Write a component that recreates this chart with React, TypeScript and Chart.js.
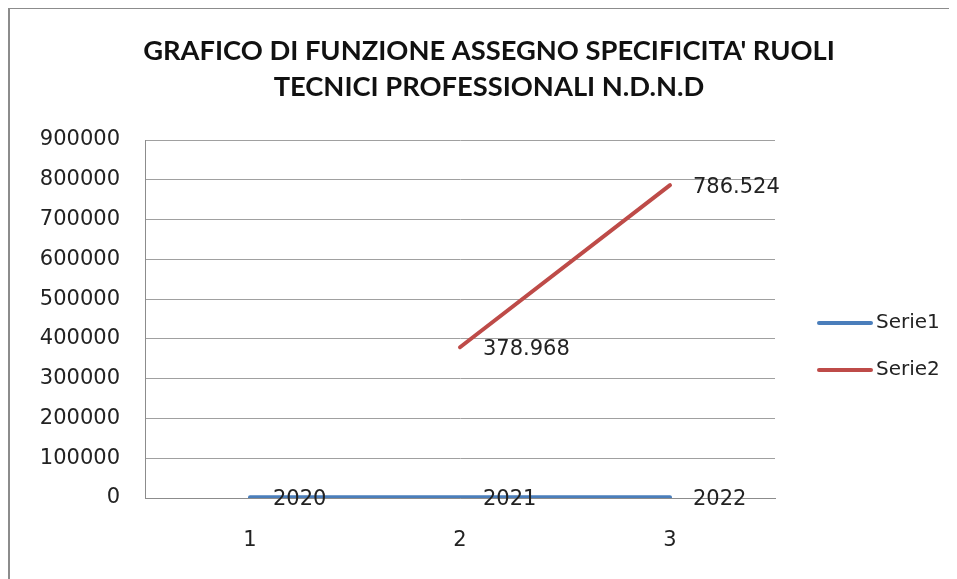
import React, { useEffect, useRef } from "react";
import { Chart, registerables } from "chart.js";

Chart.register(...registerables);

const titleLines = [
  "GRAFICO DI FUNZIONE ASSEGNO SPECIFICITA' RUOLI",
  "TECNICI PROFESSIONALI N.D.N.D",
];
const categories = ["1", "2", "3"];
const serie1 = [2020, 2021, 2022];
const serie2: (number | null)[] = [null, 378968, 786524];
const seriesNames = ["Serie1", "Serie2"];
const seriesColors = ["#4a7ebb", "#be4b48"];
const yMin = 0;
const yMax = 900000;
const yStep = 100000;

const fmt = (v: number) =>
  v >= 10000 ? String(Math.round(v)).replace(/\B(?=(\d{3})+(?!\d))/g, ".") : String(v);

const decorPlugin = {
  id: "decor",
  beforeDraw(chart: any) {
    const { ctx, width, height } = chart;
    ctx.save();
    ctx.fillStyle = "#ffffff";
    ctx.fillRect(0, 0, width, height);
    ctx.strokeStyle = "#8c8c8c";
    ctx.lineWidth = 2;
    ctx.beginPath();
    ctx.moveTo(1, height);
    ctx.lineTo(1, 0);
    ctx.lineTo(width, 0);
    ctx.stroke();
    ctx.restore();
  },
  afterDraw(chart: any) {
    const { ctx } = chart;
    ctx.save();
    // title
    ctx.fillStyle = "#111111";
    ctx.textAlign = "center";
    ctx.textBaseline = "middle";
    ctx.font = "bold 22px Lato";
    const w = ctx.measureText(titleLines[0]).width;
    const size = (22 * 692) / w;
    ctx.font = `bold ${size.toFixed(2)}px Lato`;
    ctx.fillText(titleLines[0], 481, 43);
    ctx.fillText(titleLines[1], 481, 79);
    // legend
    ctx.textAlign = "left";
    ctx.font = "20px 'DejaVu Sans'";
    ctx.lineCap = "round";
    ctx.lineWidth = 4;
    const ys = [315, 362];
    seriesNames.forEach((n, i) => {
      ctx.strokeStyle = seriesColors[i];
      ctx.beginPath();
      ctx.moveTo(811, ys[i]);
      ctx.lineTo(863, ys[i]);
      ctx.stroke();
      ctx.fillStyle = "#222222";
      ctx.fillText(n, 868, ys[i]);
    });
    ctx.restore();
  },
  afterDatasetsDraw(chart: any) {
    const { ctx } = chart;
    ctx.save();
    ctx.font = "21px 'DejaVu Sans'";
    ctx.fillStyle = "#222222";
    ctx.textAlign = "left";
    ctx.textBaseline = "middle";
    chart.data.datasets.forEach((ds: any, di: number) => {
      const meta = chart.getDatasetMeta(di);
      meta.data.forEach((pt: any, i: number) => {
        const v = ds.data[i];
        if (v === null || v === undefined) return;
        ctx.fillText(fmt(v), pt.x + 23, pt.y + 2);
      });
    });
    ctx.restore();
  },
};

export default function App() {
  const ref = useRef<HTMLCanvasElement>(null);
  useEffect(() => {
    document.documentElement.style.overflow = "hidden";
    if (!ref.current) return;
    const chart = new Chart(ref.current, {
      type: "line",
      data: {
        labels: categories,
        datasets: [
          {
            label: seriesNames[0],
            data: serie1,
            borderColor: seriesColors[0],
            backgroundColor: seriesColors[0],
            borderWidth: 4,
            pointRadius: 0,
            borderCapStyle: "round",
            tension: 0,
          },
          {
            label: seriesNames[1],
            data: serie2,
            borderColor: seriesColors[1],
            backgroundColor: seriesColors[1],
            borderWidth: 4,
            pointRadius: 0,
            borderCapStyle: "round",
            tension: 0,
          },
        ],
      },
      options: {
        responsive: false,
        animation: false,
        layout: { padding: { top: 132, right: 182, left: 0, bottom: 0 } },
        plugins: {
          legend: { display: false },
          title: { display: false },
          tooltip: { enabled: false },
        },
        scales: {
          x: {
            offset: true,
            grid: { display: false, drawTicks: false },
            border: { display: true, color: "#8c8c8c", width: 1 },
            ticks: {
              padding: 30,
              color: "#222222",
              font: { family: "'DejaVu Sans'", size: 21 },
            },
            afterFit(scale: any) {
              scale.height = 81;
            },
          },
          y: {
            min: yMin,
            max: yMax,
            grid: { color: "#a0a0a0", drawTicks: false, lineWidth: 1 },
            border: { display: true, color: "#8c8c8c", width: 1 },
            ticks: {
              stepSize: yStep,
              padding: 25,
              color: "#222222",
              font: { family: "'DejaVu Sans'", size: 21 },
              callback: (v: any) => String(v),
            },
            afterFit(scale: any) {
              scale.width = 137;
            },
          },
        },
      },
      plugins: [decorPlugin],
    });
    return () => chart.destroy();
  }, []);
  return (
    <div style={{ width: 949, height: 571 }}>
      <canvas ref={ref} width={949} height={571} />
    </div>
  );
}
